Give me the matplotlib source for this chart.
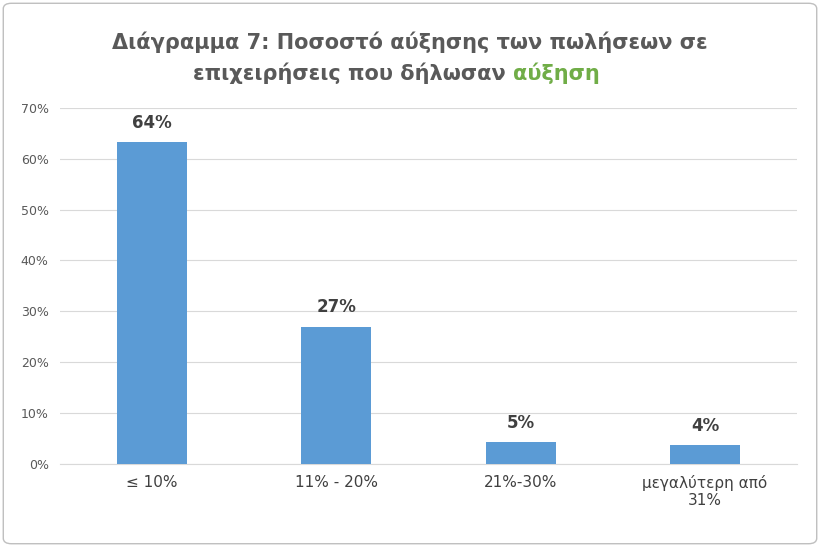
import matplotlib
matplotlib.use("Agg")
import matplotlib.pyplot as plt
from matplotlib.patches import FancyBboxPatch

categories = ["≤ 10%", "11% - 20%", "21%-30%", "μεγαλύτερη από\n31%"]
values = [63.3, 27.0, 4.3, 3.7]
labels = ["64%", "27%", "5%", "4%"]
yticks = [0, 10, 20, 30, 40, 50, 60, 70]

fig = plt.figure(figsize=(8.2, 5.47), dpi=100)
fig.patches.append(FancyBboxPatch((0.004, 0.006), 0.992, 0.988, boxstyle="round,pad=0,rounding_size=0.01",
                                  transform=fig.transFigure, fill=False, edgecolor="#bfbfbf", lw=1))
ax = fig.add_axes([0.073, 0.152, 0.899, 0.651])
x = range(len(categories))
ax.bar(x, values, width=0.38, color="#5B9BD5", zorder=3)
for i, (v, l) in enumerate(zip(values, labels)):
    ax.text(i, v + 2, l, ha="center", va="bottom", fontsize=12, fontweight="bold", color="#404040")
ax.set_xlim(-0.5, 3.5)
ax.set_ylim(0, 70)
ax.set_yticks(yticks)
ax.set_yticklabels([f"{t}%" for t in yticks], fontsize=9, color="#595959")
ax.set_xticks(list(x))
ax.set_xticklabels(categories, fontsize=11, color="#404040")
ax.grid(axis="y", color="#d9d9d9", lw=0.8, zorder=0)
for s in ["top", "right", "left"]:
    ax.spines[s].set_visible(False)
ax.spines["bottom"].set_color("#d9d9d9")
ax.tick_params(length=0, pad=8)

fig.text(0.5, 0.922, "Διάγραμμα 7: Ποσοστό αύξησης των πωλήσεων σε", ha="center", va="center",
         fontsize=15, fontweight="bold", color="#595959")
fig.text(0.626, 0.867, "επιχειρήσεις που δήλωσαν ", ha="right", va="center",
         fontsize=15, fontweight="bold", color="#595959")
fig.text(0.626, 0.867, "αύξηση", ha="left", va="center",
         fontsize=15, fontweight="bold", color="#70AD47")
fig.savefig("out.png", dpi=100)
